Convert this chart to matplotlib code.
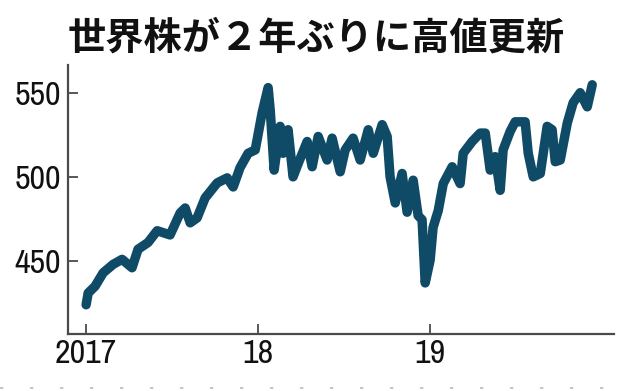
import matplotlib
matplotlib.use("Agg")
import matplotlib.pyplot as plt
from matplotlib.lines import Line2D

title = "世界株が２年ぶりに高値更新"

# time in years since start of 2017
years = [0.0, 0.012, 0.052, 0.099, 0.157, 0.209, 0.267, 0.302, 0.360, 0.413,
         0.488, 0.547, 0.576, 0.605, 0.645, 0.692, 0.762, 0.820, 0.855, 0.895,
         0.942, 0.983, 1.023, 1.058, 1.070, 1.093, 1.128, 1.145, 1.174, 1.203,
         1.233, 1.285, 1.314, 1.349, 1.401, 1.430, 1.477, 1.506, 1.552, 1.593,
         1.640, 1.669, 1.721, 1.750, 1.767, 1.797, 1.837, 1.866, 1.901, 1.930,
         1.953, 1.971, 2.000, 2.017, 2.047, 2.076, 2.128, 2.174, 2.192, 2.244,
         2.291, 2.320, 2.349, 2.378, 2.407, 2.424, 2.465, 2.494, 2.552, 2.570,
         2.599, 2.640, 2.680, 2.709, 2.727, 2.756, 2.797, 2.831, 2.872, 2.913,
         2.942]
values = [424, 431, 435, 443, 448, 451, 446, 457, 461, 468,
          465.5, 478.6, 481.5, 472.7, 475.6, 487.5, 496.4, 499.4, 494, 505.5,
          514, 516, 538, 553, 540, 504, 530, 514, 528, 500,
          508, 521, 506, 524, 510, 523, 503, 516, 523, 510,
          528, 514, 531, 524, 500, 484.5, 502, 479, 498, 477,
          474.5, 437, 450.7, 470, 480, 496, 506, 496, 514, 521,
          526, 526, 504, 512, 492, 516, 527, 532.7, 532.7, 514,
          500, 502, 530, 528, 509, 510, 532, 544, 550, 541.6,
          554.7]

xtick_pos = [0, 1, 2]
xtick_labels = ["2017", "18", "19"]
ytick_pos = [450, 500, 550]
ytick_labels = ["450", "500", "550"]

line_color = "#0f4b67"
axis_color = "#4a4a4a"
tick_font = ["Archivo Narrow", "DejaVu Sans"]

fig = plt.figure(figsize=(6.3, 3.91), dpi=100)
ax = fig.add_axes([0.108, 0.146, 0.867, 0.688])

ax.plot(years, values, color=line_color, lw=6.8, solid_joinstyle="round",
        solid_capstyle="round")

ax.set_xlim(-0.105, 3.07)
ax.set_ylim(406.7, 566.5)

for s in ["top", "right"]:
    ax.spines[s].set_visible(False)
for s in ["left", "bottom"]:
    ax.spines[s].set_color(axis_color)
    ax.spines[s].set_linewidth(1.6)

ax.set_xticks(xtick_pos)
ax.set_xticklabels(xtick_labels)
ax.set_yticks(ytick_pos)
ax.set_yticklabels(ytick_labels)
ax.tick_params(axis="both", direction="in", length=7, width=1.3,
               color=axis_color, labelsize=24.5, labelcolor="#111111")
ax.tick_params(axis="y", pad=5)
ax.tick_params(axis="x", pad=4)
for lab in ax.get_xticklabels() + ax.get_yticklabels():
    lab.set_family(tick_font)

fig.text(0.502, 0.903, title, ha="center", va="center", fontsize=27.5,
         fontweight="bold", family=["Noto Sans CJK JP", "DejaVu Sans"],
         color="#111111")

fig.add_artist(Line2D([0, 1], [0.008, 0.008], transform=fig.transFigure,
                      color="#bbbbbb", lw=1.2, dashes=(2, 16)))

fig.savefig("out.png", dpi=100)
